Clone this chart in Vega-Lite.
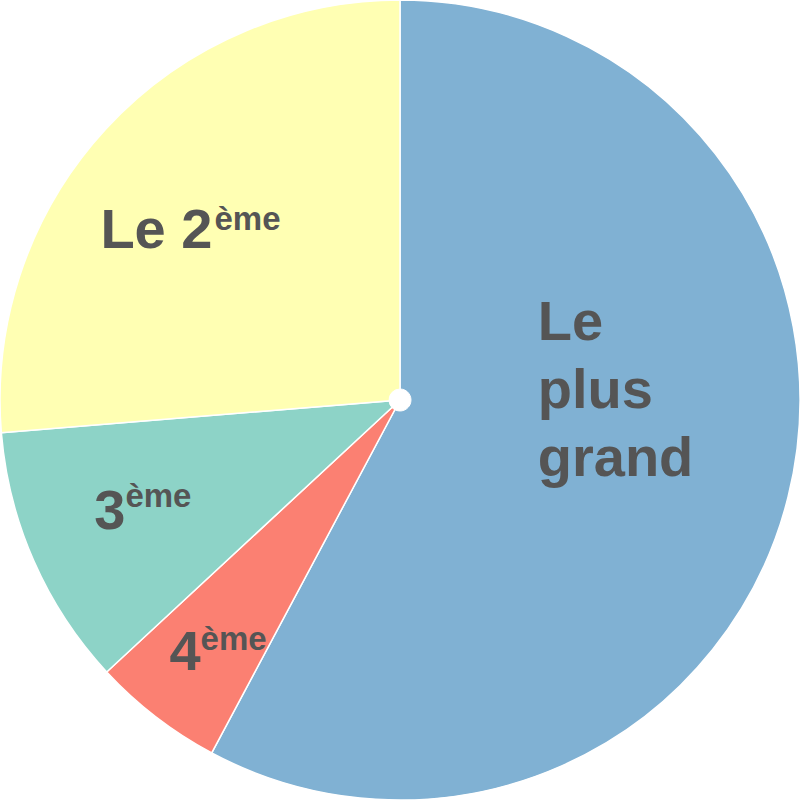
{
  "$schema": "https://vega.github.io/schema/vega-lite/v6.json",
  "width": 800,
  "height": 800,
  "autosize": {"type": "fit", "contains": "padding"},
  "padding": 0,
  "background": "white",
  "config": {"view": {"stroke": null}},
  "data": {
    "values": [
      {"slice": "Le plus grand", "value": 57.8, "rank": 1, "main": "Le\nplus\ngrand", "sup": ""},
      {"slice": "4ème", "value": 5.3, "rank": 2, "main": "4", "sup": "ème"},
      {"slice": "3ème", "value": 10.6, "rank": 3, "main": "3", "sup": "ème"},
      {"slice": "Le 2ème", "value": 26.3, "rank": 4, "main": "Le 2", "sup": "ème"}
    ]
  },
  "encoding": {
    "theta": {"field": "value", "type": "quantitative", "stack": true},
    "order": {"field": "rank", "type": "quantitative"}
  },
  "layer": [
    {
      "mark": {"type": "arc", "radius": 400, "stroke": "white", "strokeWidth": 1.5},
      "encoding": {
        "color": {
          "field": "slice",
          "type": "nominal",
          "scale": {
            "domain": ["Le plus grand", "4ème", "3ème", "Le 2ème"],
            "range": ["#80b1d3", "#fb8072", "#8dd3c7", "#ffffb3"]
          },
          "legend": null
        }
      }
    },
    {
      "mark": {"type": "arc", "radius": 11, "color": "white", "stroke": "white", "strokeWidth": 1}
    },
    {
      "mark": {"type": "text", "radius": 142, "align": "left", "baseline": "alphabetic", "dy": -94, "lineBreak": "\n", "lineHeight": 68, "font": "Liberation Sans", "fontWeight": "bold", "fontSize": 56, "color": "#555555"},
      "encoding": {"text": {"condition": {"test": "datum.rank === 1", "field": "main"}, "value": ""}}
    },
    {
      "mark": {"type": "text", "radius": 330, "align": "right", "baseline": "alphabetic", "dx": 2, "dy": 9, "font": "Liberation Sans", "fontWeight": "bold", "fontSize": 56, "color": "#555555"},
      "encoding": {"text": {"condition": {"test": "datum.rank === 2", "field": "main"}, "value": ""}}
    },
    {
      "mark": {"type": "text", "radius": 330, "align": "left", "baseline": "alphabetic", "dx": 2, "dy": -11, "font": "Liberation Sans", "fontWeight": "bold", "fontSize": 33, "color": "#555555"},
      "encoding": {"text": {"condition": {"test": "datum.rank === 2", "field": "sup"}, "value": ""}}
    },
    {
      "mark": {"type": "text", "radius": 300, "align": "right", "baseline": "alphabetic", "dx": 0, "dy": 8, "font": "Liberation Sans", "fontWeight": "bold", "fontSize": 56, "color": "#555555"},
      "encoding": {"text": {"condition": {"test": "datum.rank === 3", "field": "main"}, "value": ""}}
    },
    {
      "mark": {"type": "text", "radius": 300, "align": "left", "baseline": "alphabetic", "dx": 0, "dy": -14, "font": "Liberation Sans", "fontWeight": "bold", "fontSize": 33, "color": "#555555"},
      "encoding": {"text": {"condition": {"test": "datum.rank === 3", "field": "sup"}, "value": ""}}
    },
    {
      "mark": {"type": "text", "radius": 255, "align": "right", "baseline": "alphabetic", "dx": 0, "dy": 21, "font": "Liberation Sans", "fontWeight": "bold", "fontSize": 56, "color": "#555555"},
      "encoding": {"text": {"condition": {"test": "datum.rank === 4", "field": "main"}, "value": ""}}
    },
    {
      "mark": {"type": "text", "radius": 255, "align": "left", "baseline": "alphabetic", "dx": 2, "dy": 3, "font": "Liberation Sans", "fontWeight": "bold", "fontSize": 33, "color": "#555555"},
      "encoding": {"text": {"condition": {"test": "datum.rank === 4", "field": "sup"}, "value": ""}}
    }
  ]
}
